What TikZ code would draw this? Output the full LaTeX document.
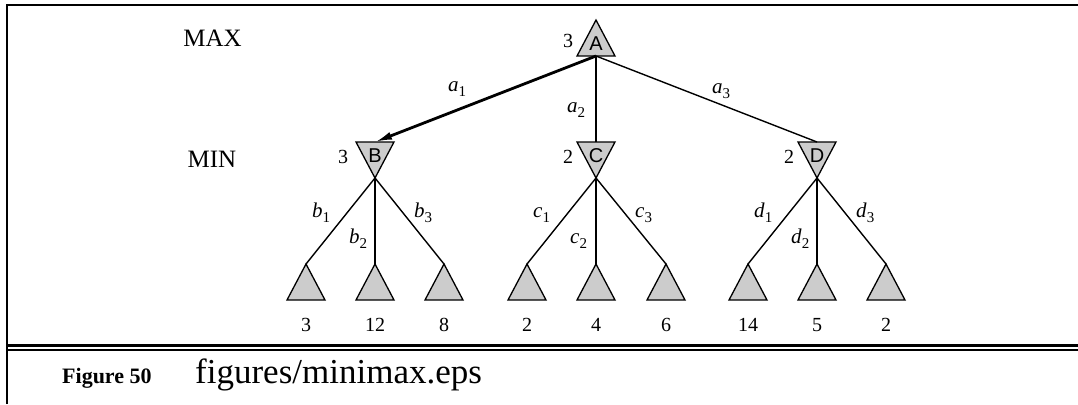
\documentclass[tikz,border=0pt]{standalone}
\usepackage{fontspec}
\setmainfont{Liberation Serif}
\newfontfamily\helv{Liberation Sans}
\usetikzlibrary{arrows.meta}
\newcommand\mysub[2]{\textit{#1}\raisebox{-5pt}{\fontsize{15}{15}\selectfont #2}}
\newcommand\uptri[3]{%
  \coordinate (#1t) at (#2,#3);
  \coordinate (#1b) at (#2,#3+36);
  \draw[tri] (#2,#3) -- (#2+19,#3+36) -- (#2-19,#3+36) -- cycle;}
\newcommand\dntri[3]{%
  \coordinate (#1t) at (#2,#3);
  \coordinate (#1b) at (#2,#3+36);
  \draw[tri] (#2-19,#3) -- (#2+19,#3) -- (#2,#3+36) -- cycle;}
\begin{document}
\begin{tikzpicture}[x=1pt,y=-1pt,
  tri/.style={draw=black, fill=black!20, line width=1.3pt, line join=miter},
  edge/.style={line width=1.4pt},
  best/.style={line width=2.8pt, -{Latex[length=17pt,width=8pt]}},
  val/.style={font=\fontsize{20}{24}\selectfont, anchor=base, inner sep=0pt},
  lab/.style={font=\fontsize{21}{24}\selectfont, anchor=base west, inner sep=0pt},
  nm/.style={font=\helv\fontsize{20}{22}\selectfont, anchor=base, inner sep=0pt},
  ply/.style={font=\fontsize{25}{28}\selectfont, anchor=base, inner sep=0pt},
  frame/.style={line width=2.3pt}]
\useasboundingbox (0,0) rectangle (1078,404);
% frame
\draw[frame] (7,404) -- (7,5) -- (1078,5);
\draw[frame] (7,345.5) -- (1078,345.5);
\draw[frame] (7,350) -- (1078,350);
% ply labels
\node[ply] (max) at (212.5,47) {MAX};
\node[ply] (min) at (212,167) {MIN};
% triangles
\uptri{A}{596}{20}
\dntri{B}{375}{142}
\dntri{C}{596}{142}
\dntri{D}{817}{142}
\uptri{L1}{306}{264}
\uptri{L2}{375}{264}
\uptri{L3}{444}{264}
\uptri{L4}{527}{264}
\uptri{L5}{596}{264}
\uptri{L6}{666}{264}
\uptri{L7}{748}{264}
\uptri{L8}{817}{264}
\uptri{L9}{886}{264}
% letters
\node[nm] (nA) at (596,50.5) {A};
\node[nm] (nB) at (375,162.5) {B};
\node[nm] (nC) at (596,162.5) {C};
\node[nm] (nD) at (817,162.5) {D};
% backed-up values
\node[val] (vA) at (568,48) {3};
\node[val] (vB) at (343,163) {3};
\node[val] (vC) at (568,163) {2};
\node[val] (vD) at (789,163) {2};
% edges
\draw[best] (Ab) -- (Bt);
\draw[edge] (Ab) -- (Ct);
\draw[edge] (Ab) -- (Dt);
\foreach \p/\a/\b/\c in {B/L1/L2/L3, C/L4/L5/L6, D/L7/L8/L9}{
  \draw[edge] (\p b) -- (\a t);
  \draw[edge] (\p b) -- (\b t);
  \draw[edge] (\p b) -- (\c t);
}
% edge labels
\node[lab] (ea1) at (448,92) {\mysub{a}{1}};
\node[lab] (ea2) at (567,112) {\mysub{a}{2}};
\node[lab] (ea3) at (712,93) {\mysub{a}{3}};
\node[lab] (eb1) at (312,217) {\mysub{b}{1}};
\node[lab] (eb2) at (349,243) {\mysub{b}{2}};
\node[lab] (eb3) at (414,217) {\mysub{b}{3}};
\node[lab] (ec1) at (533,217) {\mysub{c}{1}};
\node[lab] (ec2) at (570,243) {\mysub{c}{2}};
\node[lab] (ec3) at (635,217) {\mysub{c}{3}};
\node[lab] (ed1) at (754,217) {\mysub{d}{1}};
\node[lab] (ed2) at (791,243) {\mysub{d}{2}};
\node[lab] (ed3) at (856,217) {\mysub{d}{3}};
% leaf values
\node[val] (u1) at (306,331) {3};
\node[val] (u2) at (375,331) {12};
\node[val] (u3) at (444,331) {8};
\node[val] (u4) at (527,331) {2};
\node[val] (u5) at (596,331) {4};
\node[val] (u6) at (666,331) {6};
\node[val] (u7) at (748,331) {14};
\node[val] (u8) at (817,331) {5};
\node[val] (u9) at (886,331) {2};
% caption
\node[font=\bfseries\fontsize{22}{24}\selectfont, anchor=base west, inner sep=0pt] (fig) at (62,383) {Figure 50};
\node[font=\fontsize{35}{38}\selectfont, anchor=base west, inner sep=0pt] (file) at (195,383) {figures/minimax.eps};
\end{tikzpicture}
\end{document}
